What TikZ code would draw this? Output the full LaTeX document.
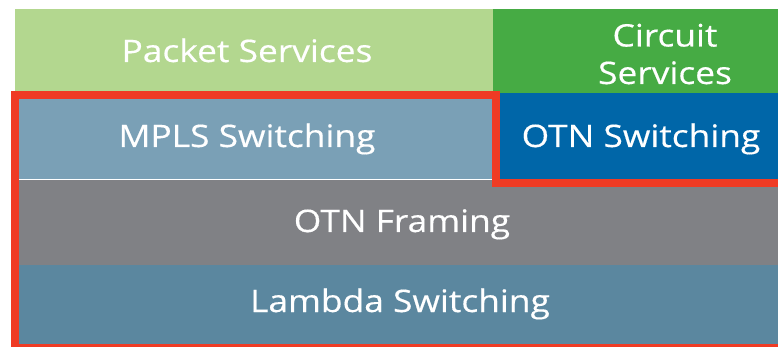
\documentclass[tikz,border=0pt]{standalone}
\usepackage{fontspec}
\setmainfont[FakeStretch=1.14,FakeBold=0.4]{Open Sans}
\definecolor{packetgreen}{HTML}{B3D78F}
\definecolor{circuitgreen}{HTML}{46AB44}
\definecolor{mplsblue}{HTML}{7AA0B6}
\definecolor{otnblue}{HTML}{0066A8}
\definecolor{framegray}{HTML}{808185}
\definecolor{lambdablue}{HTML}{5B879F}
\definecolor{outlinered}{HTML}{EF3B24}
\tikzset{
  layertext/.style={text=white, font=\fontsize{31}{37.5}\selectfont, align=center, inner sep=0pt, anchor=base},
}
\begin{document}
\begin{tikzpicture}[x=1pt,y=-1pt]
\useasboundingbox (0,0) rectangle (778,347);
\clip (0,0) rectangle (778,347);
% layer fills
\fill[packetgreen] (15,9) rectangle (493,95);
\fill[circuitgreen] (493,9) rectangle (790,93);
\fill[mplsblue] (15,95) rectangle (496,179.5);
\fill[otnblue] (496,93) rectangle (790,183);
\fill[framegray] (15,179.5) rectangle (790,265);
\fill[lambdablue] (15,265) rectangle (790,350);
\draw[white, line width=1pt] (19,179.5) -- (492,179.5);
% labels (placed by baseline; a two-line node sits on its last line)
\node[layertext] (packet) at (247,62) {Packet Services};
\node[layertext] (circuit) at (665,84) {Circuit\\Services};
\node[layertext] (mpls) at (247,147) {MPLS Switching};
\node[layertext] (otnsw) at (641,147) {OTN Switching};
\node[layertext] (framing) at (402,232) {OTN Framing};
\node[layertext] (lambda) at (400,312) {Lambda Switching};
% highlighted region
\draw[outlinered, line width=8pt, line join=miter]
  (800,348) -- (15,348) -- (15,95) -- (495.5,95) -- (495.5,183) -- (800,183);
\end{tikzpicture}
\end{document}
